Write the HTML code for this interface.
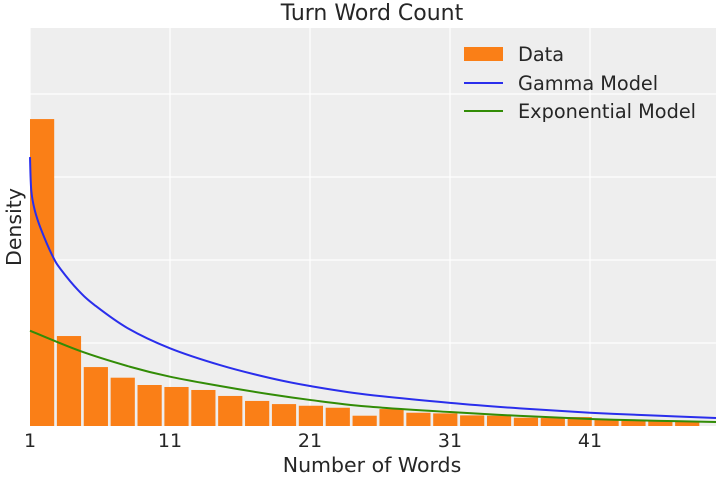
<!DOCTYPE html>
<html><head><meta charset="utf-8"><style>
body{margin:0;background:#fff;}
svg text{font-family:"DejaVu Sans","Liberation Sans",sans-serif;fill:#262626;}
</style></head><body>
<svg id="chart" width="720" height="480" xmlns="http://www.w3.org/2000/svg">
<rect x="30" y="28" width="686" height="398" fill="#eeeeee"/>
<g id="grid"></g>
<g id="bars"></g>
<g id="lines"></g>
<g id="xticks"></g>
<text x="372" y="20" font-size="22" text-anchor="middle">Turn Word Count</text>
<text x="372" y="472" font-size="20.5" text-anchor="middle">Number of Words</text>
<text x="21" y="227" font-size="20.5" text-anchor="middle" transform="rotate(-90 21 227)">Density</text>
<g>
<rect x="464" y="47" width="39" height="14" fill="#fa7f17"/>
<text x="518" y="61" font-size="19.3">Data</text>
<line x1="464" y1="83" x2="503" y2="83" stroke="#2a2eec" stroke-width="2"/>
<text x="518" y="90" font-size="19.3">Gamma Model</text>
<line x1="464" y1="111" x2="503" y2="111" stroke="#328c06" stroke-width="2"/>
<text x="518" y="118" font-size="19.3">Exponential Model</text>
</g>
</svg>
<script>
const binStart = 1;
const binEnd = 49;
const barDensity = [0.1849,0.0542,0.0355,0.0291,0.0247,0.0235,0.0217,0.0181,0.0151,0.0132,0.0122,0.0110,0.0062,0.0102,0.0080,0.0076,0.0064,0.0062,0.0050,0.0048,0.0054,0.0036,0.0032,0.0032,0.0024];
const gammaX = [1,1.09,1.34,1.81,2.64,3.24,4.43,5.62,8.0,11,14.57,18.14,21,25,31,36,41,46,50];
const gammaY = [0.162,0.142,0.130,0.118,0.1019,0.0939,0.0819,0.0728,0.0588,0.0468,0.0367,0.0289,0.0241,0.0190,0.0139,0.0106,0.0080,0.0062,0.0048];
const expX = [1,4.57,8.14,11,14.57,18.14,21,25,31,36,41,46,50];
const expY = [0.0574,0.0452,0.0357,0.0297,0.0241,0.0191,0.0157,0.0118,0.0084,0.0061,0.0042,0.0031,0.0024];
const xTicks = [1,11,21,31,41];
const yGrid = [0.05,0.10,0.15,0.20];

const NS="http://www.w3.org/2000/svg";
const X0=30,X1=716,Y0=426,Y1=28,xmin=1,xmax=50,ymax=398/83*0.05;
const sx=v=>X0+(v-xmin)/(xmax-xmin)*(X1-X0);
const sy=v=>Y0-v/ymax*(Y0-Y1);
function mk(tag,attrs,parent){const e=document.createElementNS(NS,tag);for(const k in attrs)e.setAttribute(k,attrs[k]);document.getElementById(parent).appendChild(e);return e;}
yGrid.forEach(v=>{const l=mk('line',{x1:X0,x2:X1,y1:sy(v),y2:sy(v),stroke:'#fff','stroke-width':1.2},'grid');

});
xTicks.forEach(v=>{const l=mk('line',{x1:sx(v),x2:sx(v),y1:Y1,y2:Y0,stroke:'#fff','stroke-width':1.2},'grid');


const t=mk('text',{x:sx(v),y:447,'font-size':19,'text-anchor':'middle'},'xticks');t.textContent=v;

});
const bw=(binEnd-binStart)/barDensity.length;
barDensity.forEach((d,i)=>{const x=sx(binStart+i*bw),w=sx(binStart+(i+0.9)*bw)-x;
const r=mk('rect',{x:x,y:sy(d),width:w,height:Y0-sy(d),fill:'#fa7f17'},'bars');

});
function line(xs,ys,color,name){
const P=xs.map((x,i)=>[sx(x),sy(ys[i])]);
let d='M'+P[0][0]+','+P[0][1];
for(let i=0;i<P.length-1;i++){const p0=P[Math.max(0,i-1)],p1=P[i],p2=P[i+1],p3=P[Math.min(P.length-1,i+2)];
const c1=[p1[0]+(p2[0]-p0[0])/6,p1[1]+(p2[1]-p0[1])/6],c2=[p2[0]-(p3[0]-p1[0])/6,p2[1]-(p3[1]-p1[1])/6];
d+=' C'+c1+' '+c2+' '+p2;}
const p=mk('path',{d:d,fill:'none',stroke:color,'stroke-width':2,'stroke-linejoin':'round'},'lines');

}
line(expX,expY,'#328c06','exponential-model-line');
line(gammaX,gammaY,'#2a2eec','gamma-model-line');
</script>
</body></html>
